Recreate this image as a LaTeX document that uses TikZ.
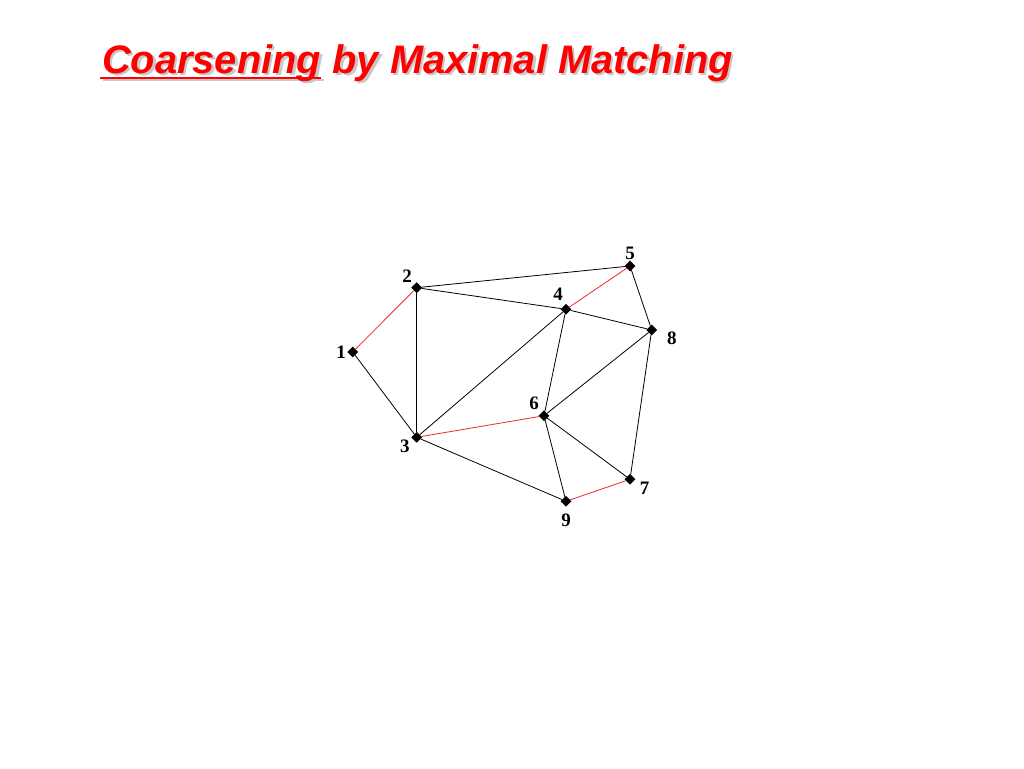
\documentclass[tikz,border=0pt]{standalone}
\usepackage{fontspec}
\setmainfont{Liberation Serif}
\newfontfamily\titlefont{Liberation Sans}
\usepackage{tikz}
\usetikzlibrary{calc}
\usetikzlibrary{shapes.geometric}

\definecolor{titlered}{RGB}{255,0,0}
\definecolor{shadowgray}{RGB}{200,200,200}
\definecolor{matchred}{RGB}{235,40,40}

\tikzset{
  vertex/.style={diamond, fill=black, inner sep=0pt, minimum size=11pt},
  vlabel/.style={font=\fontsize{19}{21}\selectfont\bfseries, inner sep=1pt},
  edge/.style={black, line width=0.8pt},
  matched/.style={matchred, line width=0.8pt},
  titletext/.style={font=\titlefont\fontsize{39.8}{44}\selectfont\bfseries\itshape, inner sep=0pt, anchor=base west}
}

\begin{document}
\begin{tikzpicture}[x=1pt,y=-1pt]
            \useasboundingbox (0,0) rectangle (1024,768);

            % Title with shadow
            \def\tx{102} % left of title
            \def\ty{73}  % baseline of title
            \node[titletext, shadowgray] (shcoars) at (\tx+2.5,\ty+2.5) {Coarsening};
            \node[titletext, shadowgray] (shrest) at ($(shcoars.base east)+(11,0)$) {by Maximal Matching};
            \draw[shadowgray, line width=2pt] ($(shcoars.base west)+(-2,4.5)$) -- ($(shcoars.base east)+(0,4.5)$);
            \node[titletext, titlered] (coars) at (\tx,\ty) {Coarsening};
            \node[titletext, titlered] (rest) at ($(coars.base east)+(11,0)$) {by Maximal Matching};
            \draw[titlered, line width=2pt] ($(coars.base west)+(-2,4.5)$) -- ($(coars.base east)+(0,4.5)$);

            % Vertices of the graph
            \node[vertex, label={[vlabel, label distance=0pt]178:1}] (n1) at (352.7,352) {};
            \node[vertex, label={[vlabel, label distance=1pt]135:2}] (n2) at (416.7,287.7) {};
            \node[vertex, label={[vlabel, label distance=1pt]190:3}] (n3) at (416.7,437.3) {};
            \node[vertex, label={[vlabel, label distance=3pt]105:4}] (n4) at (566,309.3) {};
            \node[vertex, label={[vlabel, label distance=-1pt]above:5}] (n5) at (630,266) {};
            \node[vertex, label={[vlabel, label distance=2pt]130:6}] (n6) at (544,415.7) {};
            \node[vertex, label={[vlabel, label distance=4pt]-12:7}] (n7) at (630,479.3) {};
            \node[vertex, label={[vlabel, label distance=9pt]-4:8}] (n8) at (651.7,330) {};
            \node[vertex, label={[vlabel, label distance=6pt]below:9}] (n9) at (566,501.3) {};

            % Edges
            \draw[edge] (n1) -- (n3);
            \draw[edge] (n2) -- (n3);
            \draw[edge] (n2) -- (n5);
            \draw[edge] (n2) -- (n4);
            \draw[edge] (n3) -- (n4);
            \draw[edge] (n3) -- (n9);
            \draw[edge] (n4) -- (n8);
            \draw[edge] (n4) -- (n6);
            \draw[edge] (n5) -- (n8);
            \draw[edge] (n6) -- (n8);
            \draw[edge] (n6) -- (n9);
            \draw[edge] (n6) -- (n7);
            \draw[edge] (n8) -- (n7);

            % Matching
            \draw[matched] (n1) -- (n2);
            \draw[matched] (n3) -- (n6);
            \draw[matched] (n4) -- (n5);
            \draw[matched] (n9) -- (n7);
\end{tikzpicture}
\end{document}
